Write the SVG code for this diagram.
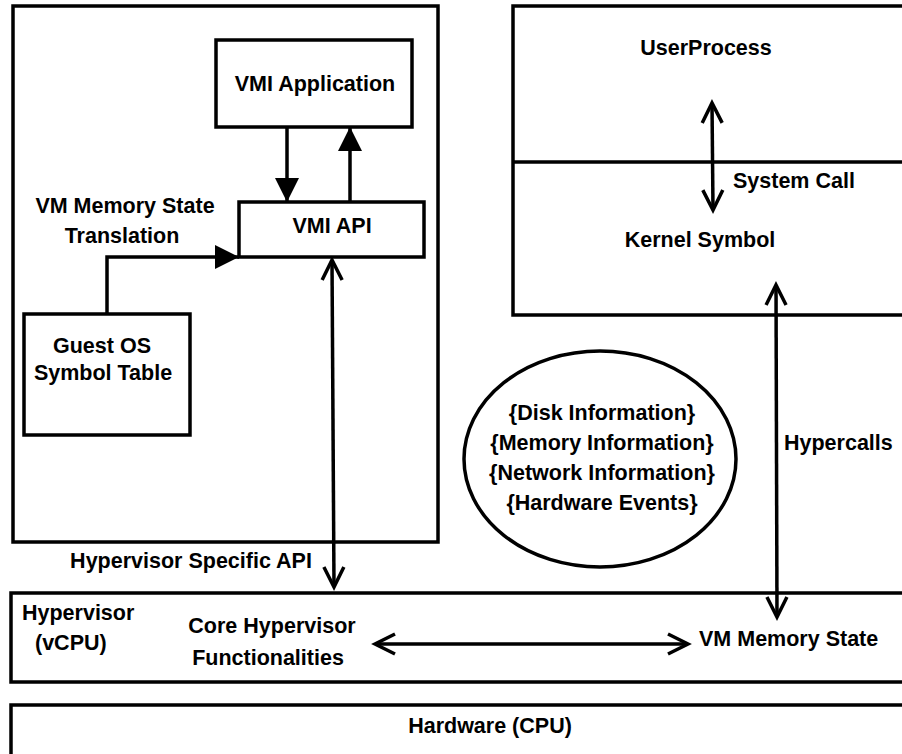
<svg xmlns="http://www.w3.org/2000/svg" width="902" height="754" viewBox="0 0 902 754">
<style>
.box{fill:none;stroke:#000;stroke-width:3.5}
.ln{fill:none;stroke:#000;stroke-width:3.5}
text{font-family:"Liberation Sans",Arial,sans-serif;font-weight:bold;font-size:21.5px;fill:#000}
.c{text-anchor:middle}
</style>
<defs>
<marker id="fill" markerUnits="userSpaceOnUse" markerWidth="24" markerHeight="24" viewBox="0 0 24 24" refX="24" refY="12" orient="auto-start-reverse">
<path d="M0,0 L24,12 L0,24 Z" fill="#000"/>
</marker>
<marker id="open" markerUnits="userSpaceOnUse" markerWidth="28" markerHeight="28" viewBox="0 0 28 28" refX="24" refY="14" orient="auto-start-reverse" overflow="visible">
<path d="M4,4 L24,14 L4,24" fill="none" stroke="#000" stroke-width="3.5"/>
</marker>
</defs>
<rect x="0" y="0" width="902" height="754" fill="#fff"/>

<g id="guest-vm">
<rect class="box" x="13" y="6" width="425" height="536"/>
</g>
<g id="vmi-application">
<rect class="box" x="216" y="40" width="196" height="87"/>
<text class="c" x="315" y="91">VMI Application</text>
</g>
<g id="vmi-api">
<rect class="box" x="239" y="202" width="185" height="55"/>
<text class="c" x="332" y="233">VMI API</text>
</g>
<g id="guest-os-symbol-table">
<rect class="box" x="24" y="314" width="166" height="121"/>
<text class="c" x="102" y="353">Guest OS</text>
<text class="c" x="103" y="380">Symbol Table</text>
</g>
<g id="user-kernel">
<rect class="box" x="513" y="6" width="400" height="309"/>
<line class="ln" x1="513" y1="162" x2="913" y2="162"/>
<text class="c" x="706" y="55">UserProcess</text>
<text class="c" x="700" y="247">Kernel Symbol</text>
</g>
<g id="info-ellipse">
<ellipse class="box" cx="600" cy="459" rx="136" ry="108"/>
<text class="c" x="602" y="420">{Disk Information}</text>
<text class="c" x="602" y="450">{Memory Information}</text>
<text class="c" x="602" y="480">{Network Information}</text>
<text class="c" x="602" y="510">{Hardware Events}</text>
</g>
<g id="hypervisor">
<rect class="box" x="11" y="593" width="902" height="89"/>
<text x="22" y="620">Hypervisor</text>
<text x="35" y="650">(vCPU)</text>
<text class="c" x="272" y="633">Core Hypervisor</text>
<text class="c" x="268" y="665">Functionalities</text>
<text x="699" y="646">VM Memory State</text>
</g>
<g id="hardware">
<rect class="box" x="11" y="705" width="902" height="70"/>
<text class="c" x="490" y="733">Hardware (CPU)</text>
</g>

<g id="connectors">
<line class="ln" x1="287" y1="127" x2="287" y2="202" marker-end="url(#fill)"/>
<line class="ln" x1="350" y1="202" x2="350" y2="127" marker-end="url(#fill)"/>
<polyline class="ln" points="107,314 107,257 239,257" marker-end="url(#fill)"/>
<line class="ln" x1="332" y1="260" x2="334" y2="587" marker-start="url(#open)" marker-end="url(#open)"/>
<line class="ln" x1="712" y1="103" x2="713" y2="210" marker-start="url(#open)" marker-end="url(#open)"/>
<line class="ln" x1="776" y1="285" x2="777" y2="617" marker-start="url(#open)" marker-end="url(#open)"/>
<line class="ln" x1="375" y1="644" x2="688" y2="644" marker-start="url(#open)" marker-end="url(#open)"/>
<text x="733" y="188">System Call</text>
<text x="784" y="450">Hypercalls</text>
<text class="c" x="125" y="213">VM Memory State</text>
<text class="c" x="122" y="243">Translation</text>
<text class="c" x="191" y="568">Hypervisor Specific API</text>
</g>
</svg>
